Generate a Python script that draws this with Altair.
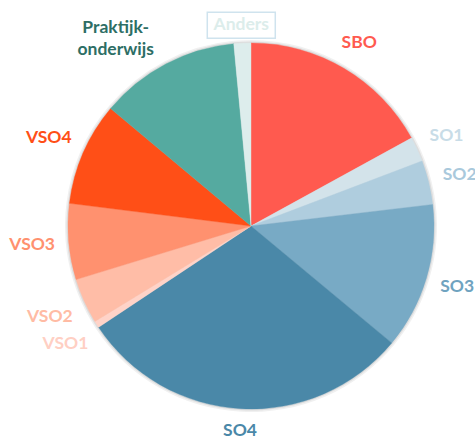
import math
import altair as alt
import pandas as pd

# ---- data ----
categories = ["SBO", "SO1", "SO2", "SO3", "SO4", "VSO1", "VSO2", "VSO3", "VSO4",
              "Praktijkonderwijs", "Anders"]
label_texts = ["SBO", "SO1", "SO2", "SO3", "SO4", "VSO1", "VSO2", "VSO3", "VSO4",
               "Praktijk-\nonderwijs", "Anders"]
shares = [17.0, 2.2, 3.9, 12.9, 29.6, 0.6, 4.0, 6.7, 9.1, 12.4, 1.5]

slice_colors = ["#FF5A4F", "#D3E3EA", "#AFCDDE", "#78AAC5", "#4A88A8",
                "#FFD3C8", "#FFBDA7", "#FF916F", "#FF4F17", "#55AAA0", "#DDEDEC"]
label_colors = ["#FF5A4F", "#C8DCE7", "#A9C9DC", "#6FA3C0", "#4A88A8",
                "#FFCFC3", "#FFBBA4", "#FF916F", "#FF4F17", "#2D6E65", "#DCEDEB"]

# ---- layout ----
PIE_R = 183          # plot area is 2*PIE_R square, pie fills it
GAP = 13             # distance from pie edge to nearest label edge
FONT = "Lato"
FS = 17.5
LINE_H = 21.5


def text_size(t):
    lines = t.split("\n")
    w = max(sum(11.5 if (c.isupper() or c.isdigit()) else 9 for c in ln) for ln in lines)
    h = FS + (len(lines) - 1) * LINE_H
    return w, h


rows = []
cum = 0.0
total = sum(shares)
for i, (cat, lab, s) in enumerate(zip(categories, label_texts, shares)):
    mid = (cum + s / 2) / total * 2 * math.pi
    cum += s
    w, h = text_size(lab)
    r = PIE_R + GAP + abs(math.sin(mid)) * w / 2 + abs(math.cos(mid)) * h / 2
    rows.append({
        "idx": i, "cat": cat, "label": lab, "share": s,
        "lcolor": label_colors[i],
        "lx": PIE_R + r * math.sin(mid),
        "ly": PIE_R - r * math.cos(mid),
    })
df = pd.DataFrame(rows)
ANDERS_DY = 5
df["bx"] = df["lx"] - 34
df["bx2"] = df["lx"] + 34
df["by"] = df["ly"] - 13 + ANDERS_DY
df["by2"] = df["ly"] + 13 + ANDERS_DY

base = alt.Chart(df)

halo1 = alt.Chart(df).mark_arc(radius=PIE_R + 3, opacity=0.06).encode(
    theta=alt.Theta("share:Q", stack=True), color=alt.value("#000000"))
halo2 = alt.Chart(df).mark_arc(radius=PIE_R + 1.5, opacity=0.08).encode(
    theta=alt.Theta("share:Q", stack=True), color=alt.value("#000000"))

pie = base.mark_arc(radius=PIE_R, strokeWidth=0.4).encode(
    theta=alt.Theta("share:Q", stack=True),
    order=alt.Order("idx:Q", sort="ascending"),
    color=alt.Color("cat:N", scale=alt.Scale(domain=categories, range=slice_colors), legend=None),
    stroke=alt.Stroke("cat:N", scale=alt.Scale(domain=categories, range=slice_colors), legend=None),
)

normal = base.transform_filter(
    alt.FieldOneOfPredicate(field="cat", oneOf=categories[:9])
).mark_text(font=FONT, fontSize=FS, fontWeight="bold", align="center", baseline="middle").encode(
    x=alt.X("lx:Q", scale=None),
    y=alt.Y("ly:Q", scale=None),
    text="label:N",
    color=alt.Color("lcolor:N", scale=None),
)

prak = base.transform_filter(alt.datum.cat == "Praktijkonderwijs").mark_text(
    font=FONT, fontSize=FS, fontWeight="bold", align="center", baseline="middle",
    lineBreak="\n", lineHeight=LINE_H, dx=-27, dy=8
).encode(
    x=alt.X("lx:Q", scale=None),
    y=alt.Y("ly:Q", scale=None),
    text="label:N",
    color=alt.Color("lcolor:N", scale=None),
)

anders_box = base.transform_filter(alt.datum.cat == "Anders").mark_rect(
    fill="white", stroke="#CFE3EE", strokeWidth=1.5
).encode(
    x=alt.X("bx:Q", scale=None), x2="bx2:Q",
    y=alt.Y("by:Q", scale=None), y2="by2:Q",
)
anders = base.transform_filter(alt.datum.cat == "Anders").mark_text(
    font=FONT, fontSize=FS, fontWeight="bold", align="center", baseline="middle",
    dy=ANDERS_DY
).encode(
    x=alt.X("lx:Q", scale=None),
    y=alt.Y("ly:Q", scale=None),
    text="label:N",
    color=alt.Color("lcolor:N", scale=None),
)

chart = alt.layer(halo1, halo2, pie, normal, prak, anders_box, anders).properties(
    width=2 * PIE_R,
    height=2 * PIE_R,
    autosize="none",
    padding={"left": 68, "top": 43, "right": 41, "bottom": 30},
    background="white",
).configure_view(stroke=None)

chart.save("out.html", embed_options={"renderer": "svg", "actions": False})
